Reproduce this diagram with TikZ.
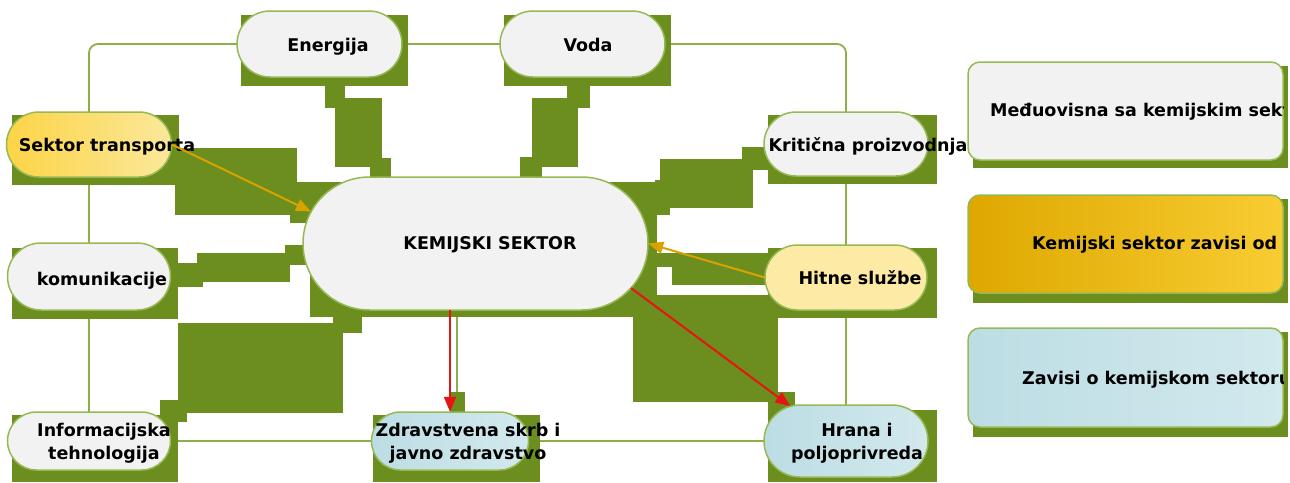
\documentclass[tikz,border=0pt]{standalone}
\usepackage{fontspec}
\setmainfont{DejaVu Sans}
\usetikzlibrary{shapes.misc,arrows.meta}
\definecolor{gblock}{RGB}{107,142,30}
\definecolor{gline}{RGB}{140,175,70}
\definecolor{pillfill}{RGB}{242,242,242}
\definecolor{pillborder}{RGB}{150,185,85}
\definecolor{tyellow}{RGB}{252,212,70}
\definecolor{tyellow2}{RGB}{251,232,155}
\definecolor{hyellow}{RGB}{253,234,165}
\definecolor{lblue}{RGB}{188,221,228}
\definecolor{lblue2}{RGB}{210,233,237}
\definecolor{gold1}{RGB}{222,168,0}
\definecolor{gold2}{RGB}{248,204,50}
\definecolor{oarr}{RGB}{218,162,0}
\definecolor{rarr}{RGB}{232,20,20}
\begin{document}
\begin{tikzpicture}[x=1pt,y=-1pt,
 pill/.style={rounded rectangle, draw=pillborder, line width=1.5pt, fill=pillfill, inner sep=0pt},
 gb/.style={fill=gblock},
 frame/.style={draw=gline, line width=1.8pt, rounded corners=9pt},
 txt/.style={font=\fontsize{17.5}{23}\selectfont\bfseries, text=black, inner sep=0pt, align=center},
 ltxt/.style={txt, anchor=base west},
 oarrow/.style={draw=oarr, line width=2pt, -{Triangle[length=15pt,width=12pt]}},
 rarrow/.style={draw=rarr, line width=2pt, -{Triangle[length=15pt,width=12pt]}},
 legbox/.style={draw=pillborder, line width=1.5pt, rounded corners=12pt}
]
\useasboundingbox (0,0) rectangle (1290,482);

\coordinate (c-en) at (319.5,44);
\coordinate (c-vo) at (582.5,44);
\coordinate (c-st) at (89,144.5);
\coordinate (c-kp) at (846,144);
\coordinate (c-ks) at (475.5,243.5);
\coordinate (c-ko) at (89,276.5);
\coordinate (c-hs) at (846,277.5);
\coordinate (c-it) at (89,441);
\coordinate (c-zs) at (450,441);
\coordinate (c-hp) at (846,441);

% shape outlines used as anchors for the connectors
\begin{scope}
\node[rounded rectangle, minimum width=165pt, minimum height=66pt, inner sep=0pt] (en) at (c-en) {};
\node[rounded rectangle, minimum width=165pt, minimum height=66pt, inner sep=0pt] (vo) at (c-vo) {};
\node[rounded rectangle, minimum width=165pt, minimum height=65pt, inner sep=0pt] (st) at (c-st) {};
\node[rounded rectangle, minimum width=164pt, minimum height=64pt, inner sep=0pt] (kp) at (c-kp) {};
\node[rounded rectangle, minimum width=345pt, minimum height=133pt, inner sep=0pt] (ks) at (c-ks) {};
\node[rounded rectangle, minimum width=163pt, minimum height=67pt, inner sep=0pt] (ko) at (c-ko) {};
\node[rounded rectangle, minimum width=162pt, minimum height=65pt, inner sep=0pt] (hs) at (c-hs) {};
\node[rounded rectangle, minimum width=163pt, minimum height=58pt, inner sep=0pt] (it) at (c-it) {};
\node[rounded rectangle, minimum width=157pt, minimum height=58pt, inner sep=0pt] (zs) at (c-zs) {};
\node[rounded rectangle, minimum width=164pt, minimum height=72pt, inner sep=0pt] (hp) at (c-hp) {};
\end{scope}

% frame lines
\draw[frame] (en.west) -| (st.north);
\draw[frame] (en.east) -- (vo.west);
\draw[frame] (vo.east) -| (kp.north);
\draw[frame] (st.south) -- (ko.north);
\draw[frame] (ko.south) -- (it.north);
\draw[frame] (kp.south) -- (hs.north);
\draw[frame] (hs.south) -- (hp.north);
\draw[frame] (it.east) -- (zs.west);
\draw[frame] (zs.east) -- (hp.west);
\path (zs.north) ++(7,0) coordinate (zsg);
\draw[frame] (zsg |- ks.south) -- (zsg);

% green blocks
\fill[gb] (241,15) rectangle (408,86);
\fill[gb] (504,15) rectangle (671,86);
\fill[gb] (12,115) rectangle (179,185);
\fill[gb] (768,115) rectangle (937,184);
\fill[gb] (12,248) rectangle (178,319);
\fill[gb] (768,248) rectangle (937,318);
\fill[gb] (12,415) rectangle (178,482);
\fill[gb] (373,415) rectangle (540,482);
\fill[gb] (768,410) rectangle (937,482);
\fill[gb] (310,182) rectangle (657,317);
\fill[gb] (325,86) rectangle (345,108);
\fill[gb] (335,98) rectangle (382,167);
\fill[gb] (370,158) rectangle (391,185);
\fill[gb] (567,86) rectangle (590,108);
\fill[gb] (532,98) rectangle (578,167);
\fill[gb] (520,157) rectangle (542,183);
\fill[gb] (175,148) rectangle (297,215);
\fill[gb] (290,182) rectangle (317,223);
\fill[gb] (660,159) rectangle (753,208);
\fill[gb] (742,147) rectangle (768,170);
\fill[gb] (655,180) rectangle (670,215);
\fill[gb] (197,253) rectangle (290,282);
\fill[gb] (178,263) rectangle (203,287);
\fill[gb] (285,245) rectangle (310,265);
\fill[gb] (178,323) rectangle (343,413);
\fill[gb] (333,315) rectangle (362,333);
\fill[gb] (160,400) rectangle (187,422);
\fill[gb] (672,253) rectangle (770,285);
\fill[gb] (657,253) rectangle (672,267);
\fill[gb] (633,295) rectangle (778,402);
\fill[gb] (768,392) rectangle (795,413);
\fill[gb] (450,392) rectangle (465,415);

% pills (visible)
\node[pill, minimum width=165pt, minimum height=66pt] (en-p) at (c-en) {};
\node[pill, minimum width=165pt, minimum height=66pt] (vo-p) at (c-vo) {};
\node[pill, minimum width=165pt, minimum height=65pt, left color=tyellow, right color=tyellow2] (st-p) at (c-st) {};
\node[pill, minimum width=164pt, minimum height=64pt] (kp-p) at (c-kp) {};
\node[pill, minimum width=345pt, minimum height=133pt] (ks-p) at (c-ks) {};
\node[pill, minimum width=163pt, minimum height=67pt] (ko-p) at (c-ko) {};
\node[pill, minimum width=162pt, minimum height=65pt, fill=hyellow] (hs-p) at (c-hs) {};
\node[pill, minimum width=163pt, minimum height=58pt] (it-p) at (c-it) {};
\node[pill, minimum width=157pt, minimum height=58pt, left color=lblue, right color=lblue2] (zs-p) at (c-zs) {};
\node[pill, minimum width=164pt, minimum height=72pt, left color=lblue, right color=lblue2] (hp-p) at (c-hp) {};

% texts
\node[txt, anchor=base] (en-t) at (328,51.5) {Energija};
\node[txt, anchor=base] (vo-t) at (588,51.5) {Voda};
\node[txt, anchor=base] (st-t) at (107,151.5) {Sektor transporta};
\node[txt, anchor=base] (kp-t) at (868,151.5) {Kritična proizvodnja};
\node[txt, anchor=base] (ks-t) at (490,249.5) {KEMIJSKI SEKTOR};
\node[txt, anchor=base] (ko-t) at (102,285.5) {komunikacije};
\node[txt, anchor=base] (hs-t) at (860,284.5) {Hitne službe};
\node[txt] (it-t) at (104,443) {Informacijska\\tehnologija};
\node[txt] (zs-t) at (468,443) {Zdravstvena skrb i\\javno zdravstvo};
\node[txt] (hp-t) at (857,443.5) {Hrana i\\poljoprivreda};

% arrows
\draw[oarrow] (st.east) -- (ks.169.6);
\draw[oarrow] (hs.west) -- (ks.east);
\draw[rarrow] (ks.south -| zs.north) -- (zs.north);
\draw[rarrow] (ks.-16.7) -- (hp.148);

% legend
\fill[gb] (973,66) rectangle (1288,168);
\fill[gb] (973,199) rectangle (1288,303);
\fill[gb] (973,332) rectangle (1288,437);
\path[legbox, fill=pillfill] (968,62) rectangle (1283,160);
\path[legbox, left color=gold1, right color=gold2] (968,195) rectangle (1283,293);
\path[legbox, left color=lblue, right color=lblue2] (968,328) rectangle (1283,427);
\begin{scope}
\clip (968,62) rectangle (1283,160);
\node[ltxt] (l1) at (990,116.5) {Međuovisna sa kemijskim sektorom};
\end{scope}
\begin{scope}
\clip (968,195) rectangle (1283,293);
\node[ltxt] (l2) at (1032,249.5) {Kemijski sektor zavisi od};
\end{scope}
\begin{scope}
\clip (968,328) rectangle (1283,427);
\node[ltxt] (l3) at (1022,384.5) {Zavisi o kemijskom sektoru};
\end{scope}
\end{tikzpicture}
\end{document}
